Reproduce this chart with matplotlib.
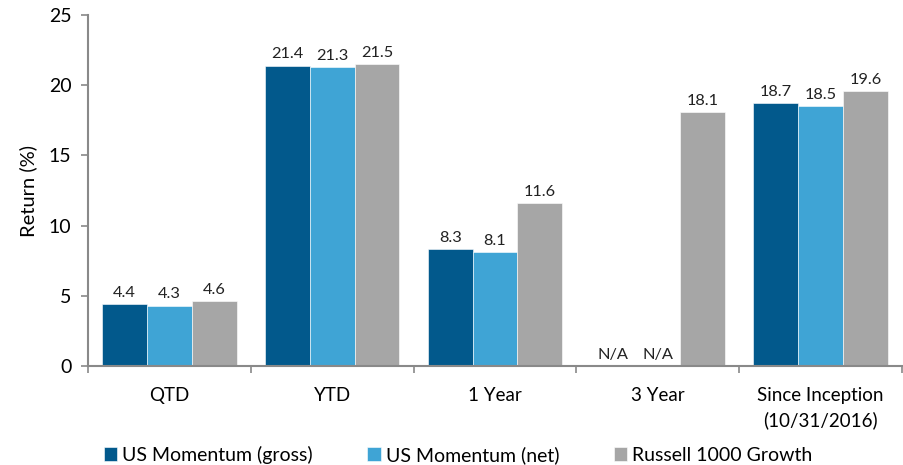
import matplotlib
matplotlib.use("Agg")
import matplotlib.pyplot as plt
import numpy as np

plt.rcParams['font.family'] = ['Lato', 'DejaVu Sans']

categories = ["QTD", "YTD", "1 Year", "3 Year", "Since Inception\n(10/31/2016)"]
series_names = ["US Momentum (gross)", "US Momentum (net)", "Russell 1000 Growth"]
gross = [4.4, 21.4, 8.3, None, 18.7]
net = [4.3, 21.3, 8.1, None, 18.5]
russell = [4.6, 21.5, 11.6, 18.1, 19.6]
colors = ["#02598C", "#3FA4D5", "#A6A6A6"]

fig = plt.figure(figsize=(9.04, 4.65), dpi=100)
ax = fig.add_axes([0.0973, 0.2129, 0.9005, 0.7548])

x = np.arange(len(categories))
w = 0.275
series = [gross, net, russell]
for k, (vals, c, name) in enumerate(zip(series, colors, series_names)):
    xs = x + (k - 1) * w
    hs = [v if v is not None else 0 for v in vals]
    ax.bar(xs, hs, width=w, color=c, label=name, edgecolor="white", linewidth=0.4)
    for xi, v in zip(xs, vals):
        lbl = "N/A" if v is None else "%.1f" % v
        ax.text(xi, (v or 0) + 0.3, lbl, ha="center", va="bottom", fontsize=11.8, color="#222222")

ax.set_xlim(-0.5, len(categories) - 0.5)
ax.set_ylim(0, 25)
ax.set_yticks([0, 5, 10, 15, 20, 25])
ax.tick_params(axis="y", labelsize=14, length=5, width=1.2, color="#898989", pad=7)

ax.set_xticks(np.arange(len(categories) + 1) - 0.5)
ax.set_xticklabels([])
ax.set_xticks(x, minor=True)
ax.set_xticklabels(categories, minor=True, fontsize=13.5, linespacing=1.5)
ax.tick_params(axis="x", which="major", length=5, width=1.2, color="#898989")
ax.tick_params(axis="x", which="minor", length=0, pad=15)

for s in ["top", "right"]:
    ax.spines[s].set_visible(False)
for s in ["left", "bottom"]:
    ax.spines[s].set_color("#898989")
    ax.spines[s].set_linewidth(1.5)

ax.set_ylabel("Return (%)", fontsize=14.5, labelpad=8)

ax.legend(loc="lower center", bbox_to_anchor=(0.5066, -0.035), bbox_transform=fig.transFigure,
          ncol=3, frameon=False, fontsize=14, handlelength=0.7, handleheight=0.7,
          handletextpad=0.25, columnspacing=2.8)

fig.savefig("out.png", dpi=100)
